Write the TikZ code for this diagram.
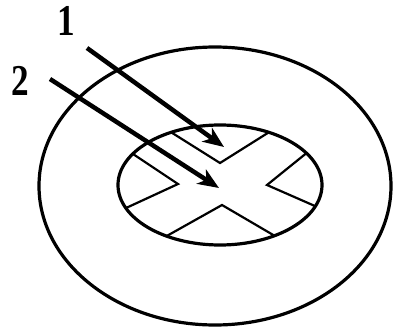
\documentclass[tikz,border=0pt]{standalone}
\usepackage{fontspec}
\setmainfont{Liberation Serif}
\usetikzlibrary{arrows.meta}
\begin{document}
\begin{tikzpicture}[x=1pt,y=-1pt,
  ring/.style={line width=3.2pt},
  cut/.style={line width=2.2pt, line join=miter},
  pointer/.style={line width=4.5pt, -{Stealth[length=21pt,width=17pt,inset=6pt]}},
  lbl/.style={font=\bfseries\fontsize{44}{44}\selectfont, inner sep=0pt}]
\useasboundingbox (0,0) rectangle (397,332);
\fill[white] (0,0) rectangle (397,332);
% outer and inner ellipses
\draw[ring] (215,186) ellipse [x radius=176, y radius=139];
\draw[ring] (220,185) ellipse [x radius=102, y radius=60];
% X shape inside the inner ellipse
\begin{scope}
  \clip (220,185) ellipse [x radius=101, y radius=59];
  \draw[cut] (150,119) -- (220,163) -- (290,119);
  \draw[cut] (100,132) -- (178,184) -- (100,220);
  \draw[cut] (340,126) -- (267,185) -- (340,217);
  \draw[cut] (140,251) -- (222,205) -- (304,253);
\end{scope}
% arrows
\coordinate (s1) at (87,48);
\coordinate (t1) at (224,147);
\coordinate (s2) at (50,79);
\coordinate (t2) at (219,188);
\draw[pointer] (s1) -- (t1);
\draw[pointer] (s2) -- (t2);
% labels
\node[lbl, xscale=0.8] (l1) at (66,21) {1};
\node[lbl, xscale=0.8] (l2) at (20,81) {2};
\end{tikzpicture}
\end{document}
